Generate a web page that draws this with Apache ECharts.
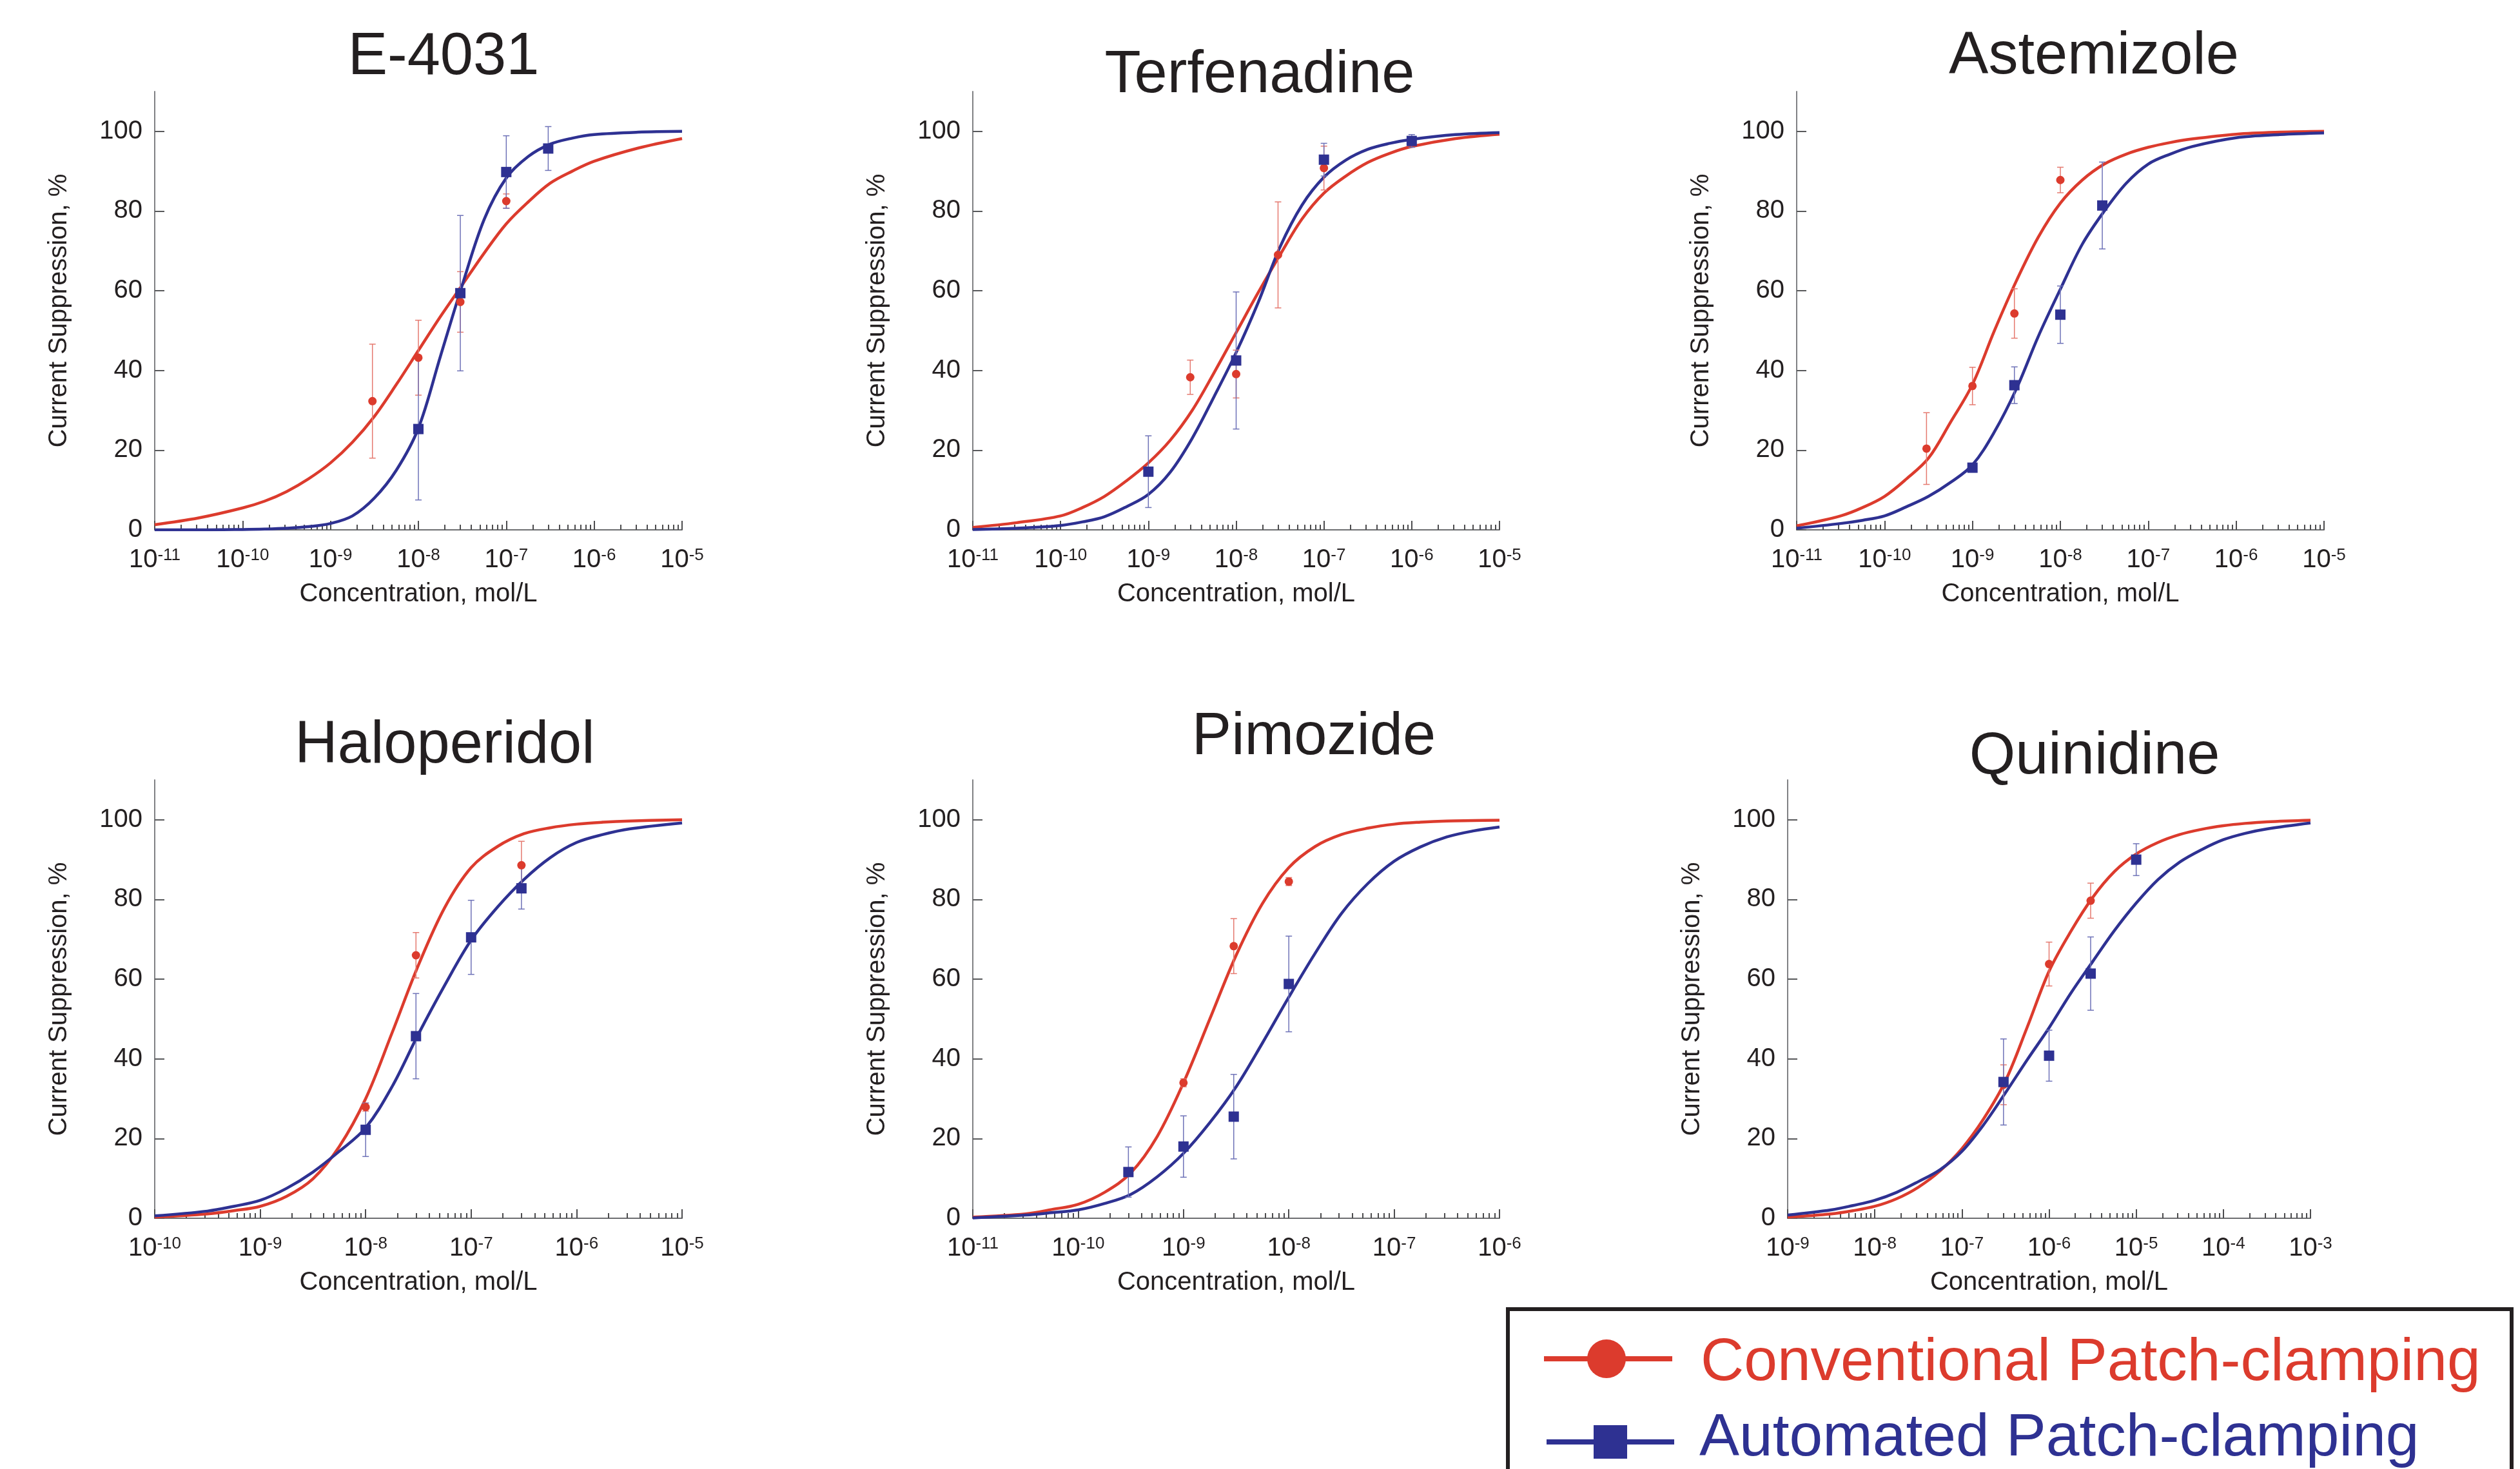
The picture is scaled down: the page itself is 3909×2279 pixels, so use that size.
<!DOCTYPE html>
<html>
<head>
<meta charset="utf-8">
<title>hERG current suppression</title>
<script src="https://cdn.jsdelivr.net/npm/echarts@6/dist/echarts.min.js"></script>
<style>
html,body{margin:0;padding:0;background:#fff;}
#main{width:3909px;height:2279px;}
</style>
</head>
<body>
<div id="main"></div>
<script>
var drugNames = ['E-4031', 'Terfenadine', 'Astemizole', 'Haloperidol', 'Pimozide', 'Quinidine'];
// x range of each panel, decade exponents
var xMinExp = [-11, -11, -11, -10, -11, -9];
var xMaxExp = [-5, -5, -5, -5, -6, -3];
var yTicks = [0, 20, 40, 60, 80, 100];

// ---- E-4031 ----
var e4031ConvX = [3e-9, 1e-8, 3e-8, 1e-7];
var e4031ConvY = [32.3, 43.2, 57.2, 82.5];
var e4031ConvErr = [14.3, 9.4, 7.6, 1.8];
var e4031AutoX = [1e-8, 3e-8, 1e-7, 3e-7];
var e4031AutoY = [25.3, 59.4, 89.8, 95.7];
var e4031AutoErr = [17.8, 19.5, 9.1, 5.5];
var e4031FitExp = [-11, -10.5, -10, -9.75, -9.5, -9.25, -9, -8.75, -8.5, -8.25, -8, -7.75, -7.5, -7.25, -7, -6.75, -6.5, -6.25, -6, -5.5, -5];
var e4031ConvFit = [1.3, 3.0, 5.5, 7.2, 9.6, 12.8, 16.8, 22, 28.5, 36.5, 45, 53.5, 61.5, 69.5, 76.8, 82.3, 87, 90, 92.5, 95.8, 98.2];
var e4031AutoFit = [0, 0, 0.1, 0.2, 0.4, 0.8, 1.6, 3.5, 8, 15, 25.5, 43.5, 61.5, 78, 88.3, 93.7, 96.8, 98.3, 99.2, 99.8, 100];

// ---- Terfenadine ----
var terfConvX = [3e-9, 1e-8, 3e-8, 1e-7];
var terfConvY = [38.3, 39.1, 69, 90.8];
var terfConvErr = [4.3, 6, 13.3, 5.5];
var terfAutoX = [1e-9, 1e-8, 1e-7, 1e-6];
var terfAutoY = [14.6, 42.5, 92.9, 97.6];
var terfAutoErr = [9, 17.2, 4.1, 1.6];
var terfFitExp = [-11, -10.5, -10, -9.75, -9.5, -9.25, -9, -8.75, -8.5, -8.25, -8, -7.75, -7.5, -7.25, -7, -6.75, -6.5, -6.25, -6, -5.5, -5];
var terfConvFit = [0.6, 1.8, 3.5, 5.6, 8.4, 12.3, 16.8, 22.5, 30, 39.5, 49.5, 59.5, 69, 78, 84.5, 88.8, 92.2, 94.5, 96.2, 98.2, 99.3];
var terfAutoFit = [0.1, 0.4, 1.1, 2.0, 3.3, 5.8, 8.9, 14.5, 23, 33.5, 44.5, 57, 71, 81.5, 88.5, 92.8, 95.5, 97, 98, 99.2, 99.7];

// ---- Astemizole ----
var asteConvX = [3e-10, 1e-9, 3e-9, 1e-8];
var asteConvY = [20.4, 36.1, 54.3, 87.8];
var asteConvErr = [9, 4.7, 6.2, 3.2];
var asteAutoX = [1e-9, 3e-9, 1e-8, 3e-8];
var asteAutoY = [15.6, 36.3, 54, 81.4];
var asteAutoErr = [1, 4.6, 7.2, 10.9];
var asteFitExp = [-11, -10.5, -10.25, -10, -9.75, -9.5, -9.25, -9, -8.75, -8.5, -8.25, -8, -7.75, -7.5, -7.25, -7, -6.75, -6.5, -6, -5.5, -5];
var asteConvFit = [1, 3.5, 5.6, 8.4, 12.8, 18, 27, 36.5, 50, 62.5, 73.5, 82, 87.8, 91.8, 94.3, 96, 97.2, 98.1, 99.3, 99.8, 100];
var asteAutoFit = [0.4, 1.6, 2.4, 3.5, 5.8, 8.4, 11.9, 16.3, 24.6, 35.4, 48.6, 60.4, 71.7, 80, 87, 91.8, 94.3, 96.2, 98.4, 99.2, 99.6];

// ---- Haloperidol ----
var haloConvX = [1e-8, 3e-8, 3e-7];
var haloConvY = [27.9, 66, 88.6];
var haloConvErr = [1, 5.7, 6];
var haloAutoX = [1e-8, 3e-8, 1e-7, 3e-7];
var haloAutoY = [22.2, 45.7, 70.5, 82.8];
var haloAutoErr = [6.7, 10.7, 9.3, 5.2];
var haloFitExp = [-10, -9.5, -9.25, -9, -8.75, -8.5, -8.25, -8, -7.75, -7.5, -7.25, -7, -6.75, -6.5, -6.25, -6, -5.75, -5.5, -5];
var haloConvFit = [0.3, 1.1, 1.9, 3, 5.5, 9.9, 18, 30, 46.5, 63.5, 78, 88, 93.3, 96.5, 98, 98.9, 99.4, 99.7, 100];
var haloAutoFit = [0.6, 1.8, 3.0, 4.5, 7.5, 11.6, 16.8, 22.7, 33, 46.2, 58.5, 69.8, 78.1, 85, 90.5, 94.3, 96.3, 97.7, 99.2];

// ---- Pimozide ----
var pimoConvX = [1e-9, 3e-9, 1e-8];
var pimoConvY = [34, 68.3, 84.5];
var pimoConvErr = [1, 6.9, 1];
var pimoAutoX = [3e-10, 1e-9, 3e-9, 1e-8];
var pimoAutoY = [11.6, 18, 25.5, 58.8];
var pimoAutoErr = [6.3, 7.7, 10.6, 12];
var pimoFitExp = [-11, -10.5, -10.25, -10, -9.75, -9.5, -9.25, -9, -8.75, -8.5, -8.25, -8, -7.75, -7.5, -7.25, -7, -6.75, -6.5, -6.25, -6];
var pimoConvFit = [0.3, 1.1, 2.2, 3.5, 6.5, 11.4, 20.5, 34, 50, 66, 79, 88, 93.3, 96.3, 97.9, 98.9, 99.4, 99.7, 99.8, 99.9];
var pimoAutoFit = [0.1, 0.8, 1.4, 2.1, 3.7, 6, 10.4, 16.3, 24, 33, 44, 55.5, 66.5, 76.5, 84, 89.6, 93.2, 95.7, 97.2, 98.2];

// ---- Quinidine ----
var quinConvX = [3e-7, 1e-6, 3e-6];
var quinConvY = [33.5, 63.8, 79.7];
var quinConvErr = [5, 5.5, 4.4];
var quinAutoX = [3e-7, 1e-6, 3e-6, 1e-5];
var quinAutoY = [34.2, 40.8, 61.4, 90];
var quinAutoErr = [10.8, 6.4, 9.2, 4];
var quinFitExp = [-9, -8.5, -8.25, -8, -7.75, -7.5, -7.25, -7, -6.75, -6.5, -6.25, -6, -5.75, -5.5, -5.25, -5, -4.75, -4.5, -4.25, -4, -3.75, -3.5, -3];
var quinConvFit = [0.3, 1.1, 1.9, 3, 4.9, 7.8, 11.9, 17.5, 25, 34.5, 48, 62, 72, 80.5, 87, 91.4, 94.3, 96.3, 97.6, 98.5, 99.1, 99.5, 99.9];
var quinAutoFit = [0.8, 2.1, 3.2, 4.5, 6.5, 9.2, 12.2, 16.8, 23.5, 31.5, 39.8, 47.8, 56.5, 64.4, 72.2, 79.1, 85, 89.4, 92.5, 95, 96.6, 97.7, 99.2];

var panels = [
  {exp: e4031FitExp, convFit: e4031ConvFit, autoFit: e4031AutoFit, cx: e4031ConvX, cy: e4031ConvY, ce: e4031ConvErr, ax: e4031AutoX, ay: e4031AutoY, ae: e4031AutoErr},
  {exp: terfFitExp, convFit: terfConvFit, autoFit: terfAutoFit, cx: terfConvX, cy: terfConvY, ce: terfConvErr, ax: terfAutoX, ay: terfAutoY, ae: terfAutoErr},
  {exp: asteFitExp, convFit: asteConvFit, autoFit: asteAutoFit, cx: asteConvX, cy: asteConvY, ce: asteConvErr, ax: asteAutoX, ay: asteAutoY, ae: asteAutoErr},
  {exp: haloFitExp, convFit: haloConvFit, autoFit: haloAutoFit, cx: haloConvX, cy: haloConvY, ce: haloConvErr, ax: haloAutoX, ay: haloAutoY, ae: haloAutoErr},
  {exp: pimoFitExp, convFit: pimoConvFit, autoFit: pimoAutoFit, cx: pimoConvX, cy: pimoConvY, ce: pimoConvErr, ax: pimoAutoX, ay: pimoAutoY, ae: pimoAutoErr},
  {exp: quinFitExp, convFit: quinConvFit, autoFit: quinAutoFit, cx: quinConvX, cy: quinConvY, ce: quinConvErr, ax: quinAutoX, ay: quinAutoY, ae: quinAutoErr}
];

// layout (pixels)
var gridLeft = [240, 1509, 2787, 240, 1509, 2773];
var gridTop = [142, 142, 142, 1210, 1210, 1210];
var gridWidth = [818, 817, 818, 818, 817, 811];
var gridHeight = 680;
var titleX = [688, 1954, 3248, 690, 2038, 3249];
var titleTop = [44, 72, 43, 1112, 1099, 1129];

var RED = '#dc3b2d', BLUE = '#2e3192';
var RED_ERR = '#e57a70', BLUE_ERR = '#6f73b8';
var TXT = '#231f20';
var FONT = "'Liberation Sans', Arial, Helvetica, sans-serif";

var chart = echarts.init(document.getElementById('main'), null, {renderer: 'canvas'});

// minor ticks at 2..9 x 10^k, in exponent space
function minorExp(lo, hi) {
  var out = [];
  for (var k = lo; k < hi; k++) {
    for (var m = 2; m <= 9; m++) out.push(k + Math.log10(m));
  }
  return out;
}

function errSeries(idx, xs, ys, es, color) {
  return {
    type: 'custom', xAxisIndex: idx * 2, yAxisIndex: idx, z: 3, silent: true,
    data: xs.map(function (x, k) { return [x, ys[k], es[k]]; }),
    renderItem: function (params, api) {
      var x = api.value(0), y = api.value(1), e = api.value(2);
      var top = api.coord([x, y + e]);
      var bot = api.coord([x, y - e]);
      var w = 5;
      var st = {stroke: color, lineWidth: 1.5};
      return {type: 'group', children: [
        {type: 'line', shape: {x1: top[0], y1: top[1], x2: bot[0], y2: bot[1]}, style: st},
        {type: 'line', shape: {x1: top[0] - w, y1: top[1], x2: top[0] + w, y2: top[1]}, style: st},
        {type: 'line', shape: {x1: bot[0] - w, y1: bot[1], x2: bot[0] + w, y2: bot[1]}, style: st}
      ]};
    }
  };
}

var grids = [], xAxes = [], yAxes = [], series = [], titles = [];
panels.forEach(function (p, i) {
  grids.push({left: gridLeft[i], top: gridTop[i], width: gridWidth[i], height: gridHeight});
  titles.push({
    text: drugNames[i], left: titleX[i], top: titleTop[i], textAlign: 'center', padding: 0,
    textStyle: {fontSize: 92, fontWeight: 'normal', color: TXT, fontFamily: FONT, lineHeight: 92}
  });
  // main log axis
  xAxes.push({
    type: 'log', logBase: 10, gridIndex: i, position: 'bottom',
    min: Math.pow(10, xMinExp[i]), max: Math.pow(10, xMaxExp[i]),
    name: 'Concentration, mol/L', nameLocation: 'middle', nameGap: 80,
    nameTextStyle: {fontSize: 40, color: TXT, fontFamily: FONT, lineHeight: 40},
    axisLine: {lineStyle: {color: '#6d6e71', width: 2}},
    axisTick: {inside: true, length: 14, lineStyle: {color: '#4d4d4f', width: 2}},
    splitLine: {show: false},
    axisLabel: {
      margin: 27, fontSize: 40, color: TXT, fontFamily: FONT,
      formatter: function (v) { return '{base|10}{sup|' + Math.round(Math.log10(v)) + '}'; },
      rich: {
        base: {fontSize: 40, lineHeight: 40, verticalAlign: 'bottom', color: TXT, fontFamily: FONT},
        sup: {fontSize: 26, lineHeight: 26, verticalAlign: 'top', padding: [0, 0, 24, 0], color: TXT, fontFamily: FONT}
      }
    }
  });
  // helper axis for minor ticks
  xAxes.push({
    type: 'value', gridIndex: i, position: 'bottom', min: xMinExp[i], max: xMaxExp[i],
    axisLine: {show: false}, axisLabel: {show: false}, splitLine: {show: false},
    axisTick: {inside: true, length: 8, customValues: minorExp(xMinExp[i], xMaxExp[i]), lineStyle: {color: '#4d4d4f', width: 2}}
  });
  yAxes.push({
    type: 'value', gridIndex: i, min: 0, max: 110,
    name: 'Current Suppression, %', nameLocation: 'middle', nameGap: 128,
    nameTextStyle: {fontSize: 40, color: TXT, fontFamily: FONT, lineHeight: 40},
    axisLine: {show: true, lineStyle: {color: '#808184', width: 2}},
    axisTick: {show: true, inside: true, length: 15, customValues: yTicks, lineStyle: {color: '#58595b', width: 2}},
    axisLabel: {customValues: yTicks, fontSize: 40, margin: 19, color: TXT, fontFamily: FONT},
    splitLine: {show: false}
  });

  var convLine = p.exp.map(function (e, k) { return [Math.pow(10, e), p.convFit[k]]; });
  var autoLine = p.exp.map(function (e, k) { return [Math.pow(10, e), p.autoFit[k]]; });
  series.push({type: 'line', name: 'Conventional fit', xAxisIndex: i * 2, yAxisIndex: i, data: convLine, smooth: 0.35,
    showSymbol: false, symbol: 'none', z: 2, lineStyle: {color: RED, width: 4.5}});
  series.push({type: 'line', name: 'Automated fit', xAxisIndex: i * 2, yAxisIndex: i, data: autoLine, smooth: 0.35,
    showSymbol: false, symbol: 'none', z: 2, lineStyle: {color: BLUE, width: 4.5}});
  series.push(errSeries(i, p.cx, p.cy, p.ce, RED_ERR));
  series.push(errSeries(i, p.ax, p.ay, p.ae, BLUE_ERR));
  series.push({type: 'scatter', name: 'Conventional Patch-clamping', xAxisIndex: i * 2, yAxisIndex: i, z: 4,
    data: p.cx.map(function (x, k) { return [x, p.cy[k]]; }),
    symbol: 'circle', symbolSize: 13, itemStyle: {color: RED, opacity: 1}});
  series.push({type: 'scatter', name: 'Automated Patch-clamping', xAxisIndex: i * 2, yAxisIndex: i, z: 4,
    data: p.ax.map(function (x, k) { return [x, p.ay[k]]; }),
    symbol: 'rect', symbolSize: 16, itemStyle: {color: BLUE, opacity: 1}});
});

// legend box, bottom right
var legendGraphic = [
  {type: 'rect', shape: {x: 2339, y: 2031, width: 1557, height: 320}, style: {fill: '#fff', stroke: TXT, lineWidth: 6}, z: 10},
  {type: 'line', shape: {x1: 2395, y1: 2108, x2: 2594, y2: 2108}, style: {stroke: RED, lineWidth: 8}, z: 11},
  {type: 'circle', shape: {cx: 2492, cy: 2108, r: 30}, style: {fill: RED}, z: 12},
  {type: 'text', x: 2638, y: 2115, z: 12, style: {text: 'Conventional Patch-clamping', fontSize: 93, fontFamily: FONT, fill: RED, verticalAlign: 'middle'}},
  {type: 'line', shape: {x1: 2399, y1: 2237, x2: 2597, y2: 2237}, style: {stroke: BLUE, lineWidth: 8}, z: 11},
  {type: 'rect', shape: {x: 2472, y: 2211, width: 52, height: 52}, style: {fill: BLUE}, z: 12},
  {type: 'text', x: 2636, y: 2232, z: 12, style: {text: 'Automated Patch-clamping', fontSize: 93, fontFamily: FONT, fill: BLUE, verticalAlign: 'middle'}}
];

chart.setOption({
  animation: false,
  backgroundColor: '#fff',
  title: titles,
  grid: grids,
  xAxis: xAxes,
  yAxis: yAxes,
  series: series,
  graphic: legendGraphic
});
</script>
</body>
</html>
